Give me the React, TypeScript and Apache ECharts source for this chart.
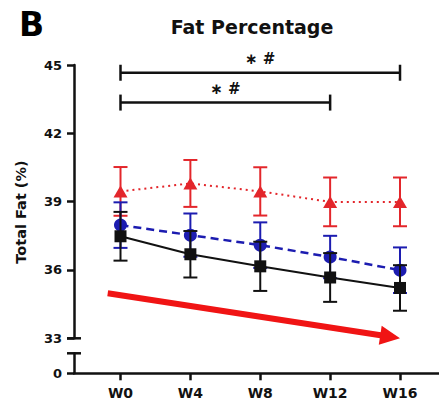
import React, { useEffect, useRef } from "react";
import * as echarts from "echarts";

const categories = ["W0", "W4", "W8", "W12", "W16"];
const redMean = [39.45, 39.8, 39.45, 38.99, 38.99];
const redSd = [1.07, 1.03, 1.06, 1.07, 1.07];
const blueMean = [37.97, 37.53, 37.09, 36.57, 35.99];
const blueSd = [1.0, 0.95, 1.0, 0.93, 1.0];
const blackMean = [37.48, 36.69, 36.16, 35.67, 35.21];
const blackSd = [1.07, 1.02, 1.08, 1.07, 1.0];
const upperRange = [33, 45];
const upperInterval = 3;
const lowerTicks = [0];
const breakValues = [33, 1];
// [from index, to index, y value, label]
const brackets: [number, number, number, string][] = [
  [0, 4, 44.66, "∗ #"],
  [0, 3, 43.35, "∗ #"],
];
const trendStart = [-0.183, 34.98];
const trendEnd = [4.0, 33.0];

const FONT = "DejaVu Sans";
const X_MIN = -0.6655;
const X_MAX = 4.558;
const INK = "#111111";
const RED = "#e3262b";
const BLUE = "#1c1cb0";

function errorSeries(mean: number[], sd: number[], color: string, z: number) {
  return {
    type: "custom",
    xAxisIndex: 0,
    yAxisIndex: 0,
    data: mean.map((m, i) => [i, m - sd[i], m + sd[i]]),
    encode: { x: 0, y: [1, 2] },
    clip: false,
    z,
    silent: true,
    renderItem: (params: any, api: any) => {
      const lo = api.coord([api.value(0), api.value(1)]);
      const hi = api.coord([api.value(0), api.value(2)]);
      const w = 7;
      const style = { stroke: color, lineWidth: 2 };
      return {
        type: "group",
        children: [
          { type: "line", shape: { x1: hi[0], y1: hi[1], x2: lo[0], y2: lo[1] }, style },
          { type: "line", shape: { x1: hi[0] - w, y1: hi[1], x2: hi[0] + w, y2: hi[1] }, style },
          { type: "line", shape: { x1: lo[0] - w, y1: lo[1], x2: lo[0] + w, y2: lo[1] }, style },
        ],
      };
    },
  };
}

function lineSeries(mean: number[], color: string, symbol: string, size: any, lineType: any, width: number, z: number) {
  return {
    type: "line",
    xAxisIndex: 0,
    yAxisIndex: 0,
    data: mean.map((m, i) => [i, m]),
    symbol,
    symbolSize: size,
    showSymbol: true,
    itemStyle: { color, borderWidth: 0 },
    lineStyle: { color, width, type: lineType },
    clip: false,
    z,
    silent: true,
  };
}

export default function App() {
  const ref = useRef<HTMLDivElement>(null);
  useEffect(() => {
    if (!ref.current) return;
    const chart = echarts.init(ref.current, undefined, { renderer: "svg" });
    const axisLine = { show: true, onZero: false, lineStyle: { color: INK, width: 2.5 } };
    const labelStyle = { color: INK, fontFamily: FONT, fontWeight: "bold" as const, fontSize: 13 };
    const option: any = {
      animation: false,
      backgroundColor: "#ffffff",
      grid: [
        { left: 74, right: 0, top: 65, height: 273.3 },
        { left: 74, right: 0, top: 353.3, height: 20 },
      ],
      xAxis: [
        { gridIndex: 0, type: "value", min: X_MIN, max: X_MAX, show: false },
        {
          gridIndex: 1,
          type: "value",
          min: X_MIN,
          max: X_MAX,
          axisLine,
          axisTick: { show: true, customValues: categories.map((_, i) => i), length: 7, lineStyle: { color: INK, width: 2.5 } },
          axisLabel: {
            show: true,
            customValues: categories.map((_, i) => i),
            formatter: (v: number) => categories[Math.round(v)] ?? "",
            margin: 13,
            ...labelStyle,
            fontSize: 14,
          },
          splitLine: { show: false },
        },
      ],
      yAxis: [
        {
          gridIndex: 0,
          type: "value",
          min: upperRange[0],
          max: upperRange[1],
          interval: upperInterval,
          axisLine,
          axisTick: { show: true, length: 7, lineStyle: { color: INK, width: 2.5 } },
          axisLabel: { show: true, margin: 12, ...labelStyle },
          splitLine: { show: false },
        },
        {
          gridIndex: 1,
          type: "value",
          min: 0,
          max: 1,
          axisLine,
          axisTick: { show: true, customValues: lowerTicks, length: 7, lineStyle: { color: INK, width: 2.5 } },
          axisLabel: { show: true, customValues: lowerTicks, margin: 12, ...labelStyle },
          splitLine: { show: false },
        },
      ],
      graphic: [
        {
          type: "text",
          x: 19,
          y: 24,
          style: { text: "B", fontFamily: FONT, fontWeight: "bold", fontSize: 33, fill: "#000", textAlign: "left", textVerticalAlign: "middle" },
        },
        {
          type: "text",
          x: 252,
          y: 27,
          style: { text: "Fat Percentage", fontFamily: FONT, fontWeight: "bold", fontSize: 19, fill: INK, textAlign: "center", textVerticalAlign: "middle" },
        },
        {
          type: "text",
          x: 21,
          y: 212,
          rotation: Math.PI / 2,
          style: { text: "Total Fat (%)", fontFamily: FONT, fontWeight: "bold", fontSize: 14.5, fill: INK, textAlign: "center", textVerticalAlign: "middle" },
        },
      ],
      series: [
        // axis break caps
        {
          type: "custom",
          xAxisIndex: 0,
          yAxisIndex: 0,
          data: [[X_MIN, breakValues[0]]],
          clip: false,
          silent: true,
          z: 5,
          renderItem: (p: any, api: any) => {
            const c = api.coord([api.value(0), api.value(1)]);
            return { type: "line", shape: { x1: c[0] - 7, y1: c[1], x2: c[0] + 7, y2: c[1] }, style: { stroke: INK, lineWidth: 2.5 } };
          },
        },
        {
          type: "custom",
          xAxisIndex: 1,
          yAxisIndex: 1,
          data: [[X_MIN, breakValues[1]]],
          clip: false,
          silent: true,
          z: 5,
          renderItem: (p: any, api: any) => {
            const c = api.coord([api.value(0), api.value(1)]);
            return { type: "line", shape: { x1: c[0] - 7, y1: c[1], x2: c[0] + 7, y2: c[1] }, style: { stroke: INK, lineWidth: 2.5 } };
          },
        },
        // significance brackets
        {
          type: "custom",
          xAxisIndex: 0,
          yAxisIndex: 0,
          data: brackets.map((b) => [b[0], b[1], b[2]]),
          clip: false,
          silent: true,
          z: 5,
          renderItem: (p: any, api: any) => {
            const a = api.coord([api.value(0), api.value(2)]);
            const b = api.coord([api.value(1), api.value(2)]);
            const label = brackets[p.dataIndex][3];
            const style = { stroke: INK, lineWidth: 2.5 };
            return {
              type: "group",
              children: [
                { type: "line", shape: { x1: a[0], y1: a[1], x2: b[0], y2: b[1] }, style },
                { type: "line", shape: { x1: a[0], y1: a[1] - 8, x2: a[0], y2: a[1] + 8 }, style },
                { type: "line", shape: { x1: b[0], y1: b[1] - 8, x2: b[0], y2: b[1] + 8 }, style },
                {
                  type: "text",
                  x: (a[0] + b[0]) / 2,
                  y: a[1] - 13.5,
                  style: { text: label, fontFamily: FONT, fontWeight: "bold", fontSize: 15, fill: INK, textAlign: "center", textVerticalAlign: "middle" },
                },
              ],
            };
          },
        },
        // trend arrow
        {
          type: "custom",
          xAxisIndex: 0,
          yAxisIndex: 0,
          data: [[trendStart[0], trendStart[1], trendEnd[0], trendEnd[1]]],
          encode: { x: [0, 2], y: [1, 3] },
          clip: false,
          silent: true,
          z: 1,
          renderItem: (p: any, api: any) => {
            const s = api.coord([api.value(0), api.value(1)]);
            const e = api.coord([api.value(2), api.value(3)]);
            const dx = e[0] - s[0];
            const dy = e[1] - s[1];
            const len = Math.sqrt(dx * dx + dy * dy);
            const ux = dx / len;
            const uy = dy / len;
            const headLen = 20;
            const halfW = 9.5;
            const bx = e[0] - ux * headLen;
            const by = e[1] - uy * headLen;
            return {
              type: "group",
              children: [
                { type: "line", shape: { x1: s[0], y1: s[1], x2: bx + ux * 2, y2: by + uy * 2 }, style: { stroke: "#f01414", lineWidth: 6 } },
                {
                  type: "polygon",
                  shape: { points: [[e[0], e[1]], [bx - uy * halfW, by + ux * halfW], [bx + uy * halfW, by - ux * halfW]] },
                  style: { fill: "#f01414" },
                },
              ],
            };
          },
        },
        errorSeries(redMean, redSd, RED, 2),
        lineSeries(redMean, RED, "triangle", [14, 12], [2, 4], 2, 3),
        errorSeries(blueMean, blueSd, BLUE, 4),
        lineSeries(blueMean, BLUE, "circle", 13, [8, 5], 2.5, 5),
        errorSeries(blackMean, blackSd, INK, 6),
        lineSeries(blackMean, INK, "rect", 12, "solid", 2, 7),
      ],
    };
    chart.setOption(option);
    return () => chart.dispose();
  }, []);
  return <div ref={ref} style={{ position: "fixed", left: 0, top: 0, width: 439, height: 404, background: "#fff" }} />;
}
